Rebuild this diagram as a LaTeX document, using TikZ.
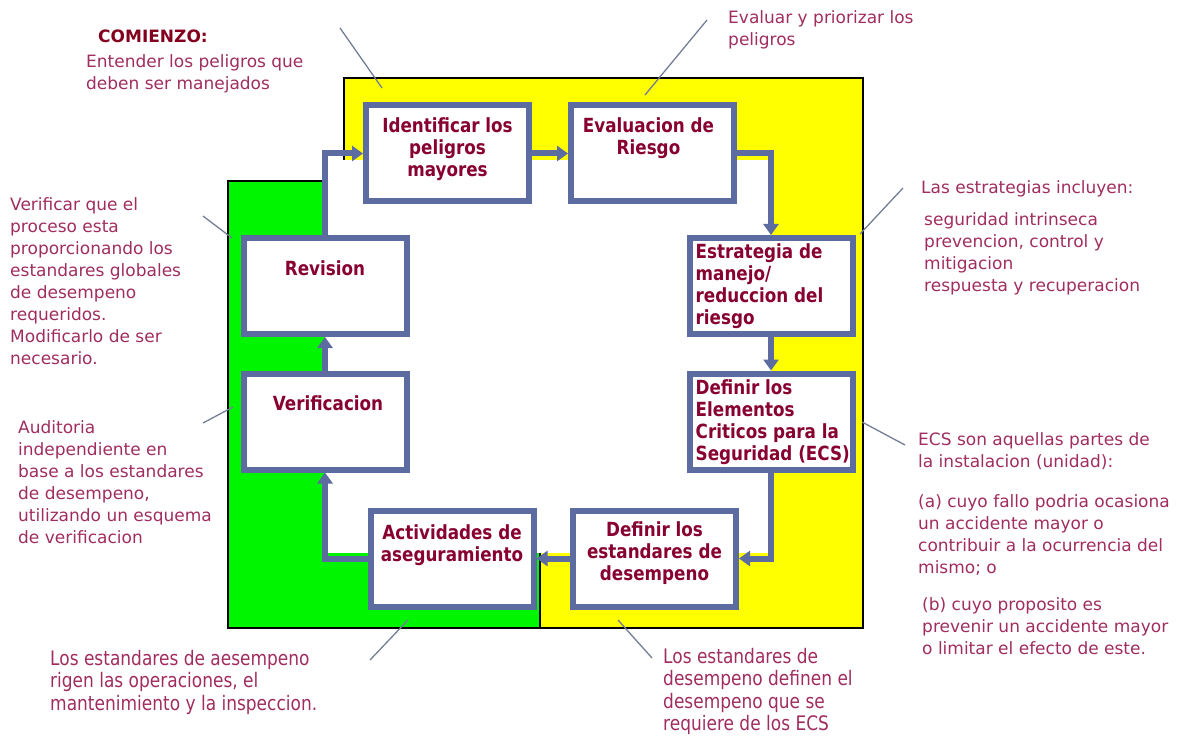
\documentclass[tikz,border=0pt]{standalone}
\usepackage{fontspec}
\setmainfont{DejaVu Sans}
\newfontfamily\boxfont[FakeStretch=0.86]{DejaVu Sans}
\newfontfamily\narrowfont[FakeStretch=0.85]{DejaVu Sans}
\usetikzlibrary{positioning,arrows.meta}
\definecolor{boxblue}{RGB}{92,108,160}
\definecolor{boxred}{RGB}{135,0,48}
\definecolor{notered}{RGB}{160,45,95}
\definecolor{titlered}{RGB}{130,0,30}
\definecolor{leadergray}{RGB}{115,125,150}
\definecolor{bgyellow}{RGB}{255,255,0}
\definecolor{bggreen}{RGB}{0,245,0}
\newcommand{\notesize}{\fontsize{17}{22}\selectfont}
\newcommand{\bignotesize}{\narrowfont\fontsize{20}{22.5}\selectfont}
\newcommand{\boxsize}{\boxfont\bfseries\fontsize{19.5}{22}\selectfont}

\begin{document}
\begin{tikzpicture}[
        x=1pt,
        y=-1pt,
        stepbox/.style={
            draw=boxblue,
            fill=white,
            line width=6pt,
            minimum width=163pt,
            minimum height=96pt,
            inner sep=0pt
        },
        boxtext/.style={
            font=\boxsize,
            text=boxred,
            inner sep=0pt
        },
        note/.style={
            font=\notesize,
            text=notered,
            align=left,
            anchor=north west,
            inner sep=0pt
        },
        bignote/.style={
            font=\bignotesize,
            text=notered,
            align=left,
            anchor=north west,
            inner sep=0pt
        },
        flow/.style={
            draw=boxblue,
            line width=6pt,
            -{Triangle[length=11pt,width=15pt]}
        },
        leader/.style={
            draw=leadergray,
            line width=1.3pt
        }
    ]
        \useasboundingbox (0,0) rectangle (1186,738);

        % Coloured background: yellow block, green block, white loop area
        \draw[line width=1.5pt, fill=bgyellow] (344,78) rectangle (863,628);
        \draw[line width=1.5pt, fill=bggreen] (228,181) rectangle (540,628);
        \fill[white] (325,160) rectangle (771,553);

        % The eight steps of the cycle
        \node[stepbox] (ident) at (447.5,153.5) {};
        \node[stepbox] (eval)  at (652.5,153.5) {};
        \node[stepbox] (strat) at (771,286) {};
        \node[stepbox] (ecs)   at (771,421.5) {};
        \node[stepbox] (stand) at (654.5,558.5) {};
        \node[stepbox] (activ) at (452,558.5) {};
        \node[stepbox] (revis) at (325,286) {};
        \node[stepbox] (verif) at (325,421.5) {};

        \node[boxtext, align=center, anchor=north, below=15pt of ident.north]
            (ident-t) {Identificar los\\peligros\\mayores};
        \node[boxtext, align=center, anchor=north, below=15pt of eval.north,
              xshift=-4pt]
            (eval-t) {Evaluacion de\\Riesgo};
        \node[boxtext, align=left, below right=8pt and 9pt of strat.north west]
            (strat-t) {Estrategia de\\manejo/\\reduccion del\\riesgo};
        \node[boxtext, align=left, below right=9pt and 9pt of ecs.north west]
            (ecs-t) {Definir los\\Elementos\\Criticos para la\\Seguridad (ECS)};
        \node[boxtext, align=center] at ([yshift=5pt]stand.center)
            (stand-t) {Definir los\\estandares de\\desempeno};
        \node[boxtext, align=center, below=17pt of activ.north]
            (activ-t) {Actividades de\\aseguramiento};
        \node[boxtext, below=25pt of revis.north]
            (revis-t) {Revision};
        \node[boxtext, below=25pt of verif.north, xshift=3pt]
            (verif-t) {Verificacion};

        % Connectors round the loop
        \draw[flow] (ident) -- (eval);
        \draw[flow] (eval.east) -| (strat.north);
        \draw[flow] (strat) -- (ecs);
        \draw[flow] (ecs.south) |- (stand.east);
        \draw[flow] (stand) -- (activ);
        \draw[flow] (activ.west) -| (verif.south);
        \draw[flow] (verif) -- (revis);
        \draw[flow] (revis.north) |- (ident.west);

        % Side notes
        \node[note, font=\bfseries\fontsize{17}{20}\selectfont,
              text=titlered] (start-title) at (98,30) {COMIENZO:};
        \node[note] (start-note) at (86,54)
            {Entender los peligros que\\deben ser manejados};
        \node[note] (eval-note) at (728,10)
            {Evaluar y priorizar los\\peligros};
        \node[note] (strat-note) at (921,180) {Las estrategias incluyen:};
        \node[note] (strat-list) at (924,212)
            {seguridad intrinseca\\prevencion, control y\\mitigacion\\%
             respuesta y recuperacion};
        \node[note] (ecs-note) at (918,432)
            {ECS son aquellas partes de\\la instalacion (unidad):};
        \node[note] (ecs-a) at (918,494)
            {(a) cuyo fallo podria ocasiona\\un accidente mayor o\\%
             contribuir a la ocurrencia del\\mismo; o};
        \node[note] (ecs-b) at (922,597)
            {(b) cuyo proposito es\\prevenir un accidente mayor\\%
             o limitar el efecto de este.};
        \node[note] (rev-note) at (10,197)
            {Verificar que el\\proceso esta\\proporcionando los\\%
             estandares globales\\de desempeno\\requeridos.\\%
             Modificarlo de ser\\necesario.};
        \node[note] (aud-note) at (18,420)
            {Auditoria\\independiente en\\base a los estandares\\%
             de desempeno,\\utilizando un esquema\\de verificacion};
        \node[bignote] (perf-note) at (50,650)
            {Los estandares de aesempeno\\rigen las operaciones, el\\%
             mantenimiento y la inspeccion.};
        \node[bignote] (std-note) at (663,648)
            {Los estandares de\\desempeno definen el\\%
             desempeno que se\\requiere de los ECS};

        % Leader lines from the notes into the diagram
        \coordinate (l1a) at (340,28);  \coordinate (l1b) at (382,88);
        \coordinate (l2a) at (707,20);  \coordinate (l2b) at (645,95);
        \coordinate (l3a) at (903,188); \coordinate (l3b) at (860,234);
        \coordinate (l4a) at (905,445); \coordinate (l4b) at (862,422);
        \coordinate (l5a) at (652,658); \coordinate (l5b) at (618,620);
        \coordinate (l6a) at (370,660); \coordinate (l6b) at (408,620);
        \coordinate (l7a) at (203,216); \coordinate (l7b) at (232,238);
        \coordinate (l8a) at (203,423); \coordinate (l8b) at (233,407);
        \foreach \k in {1,...,8}
            \draw[leader] (l\k a) -- (l\k b);
\end{tikzpicture}
\end{document}
